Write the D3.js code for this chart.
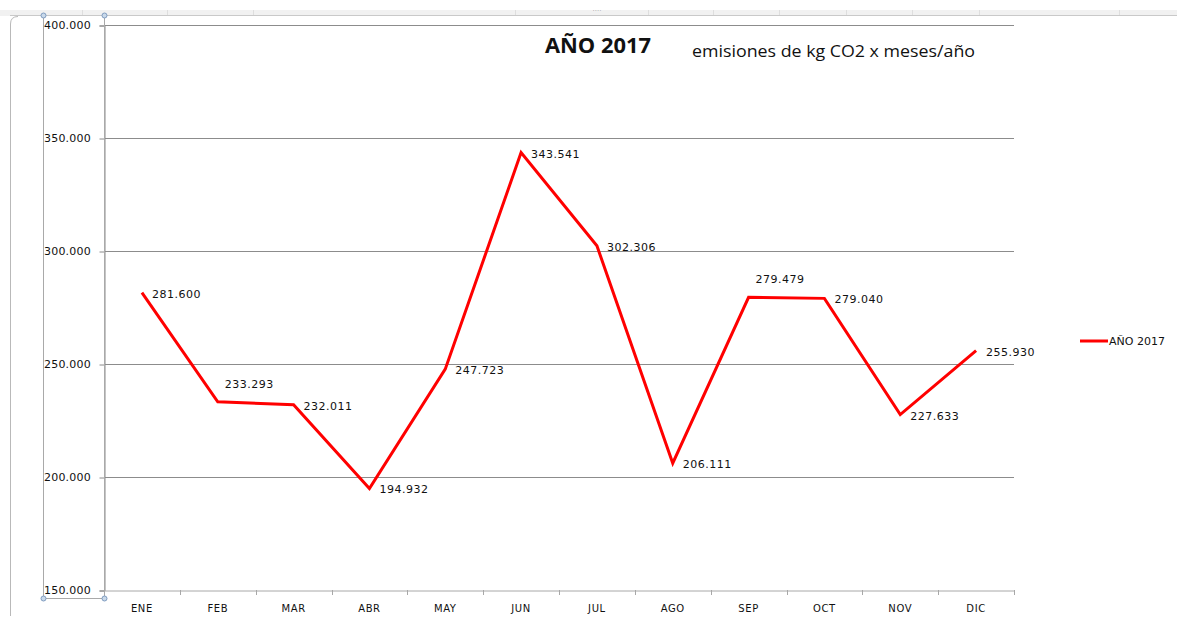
<!DOCTYPE html>
<html>
<head>
<meta charset="utf-8">
<script src="https://d3js.org/d3.v7.min.js"></script>
<style>
  body { margin: 0; background: #fff; }
  text { font-family: "DejaVu Sans", sans-serif; fill: #111; }
</style>
</head>
<body>
<div id="chart"></div>
<script>
// data
var months = ["ENE", "FEB", "MAR", "ABR", "MAY", "JUN", "JUL", "AGO", "SEP", "OCT", "NOV", "DIC"];
var emisiones = [281600, 233293, 232011, 194932, 247723, 343541, 302306, 206111, 279479, 279040, 227633, 255930];
var yTicks = [150000, 200000, 250000, 300000, 350000, 400000];
// where each data label sits: "r" = right of point, "a" = above
var labelSide = ["r", "a", "r", "r", "r", "r", "r", "r", "a", "r", "r", "r"];
var seriesName = "AÑO 2017";

var W = 1177, H = 619;
var plot = { left: 104, right: 1014, top: 25, bottom: 590 };

var svg = d3.select("#chart").append("svg")
  .attr("width", W).attr("height", H);

// spreadsheet strip on top
svg.append("rect").attr("x", 0).attr("y", 10).attr("width", W).attr("height", 6).attr("fill", "#f1f1f1");
svg.append("line").attr("x1", 10).attr("x2", W).attr("y1", 15.5).attr("y2", 15.5).attr("stroke", "#c9c9c9");
[82, 167, 253, 515, 648, 713, 779, 846, 912, 979, 1119].forEach(function(x) {
  svg.append("line").attr("x1", x + 0.5).attr("x2", x + 0.5).attr("y1", 10).attr("y2", 15)
    .attr("stroke", "#dedede");
});
svg.append("text").attr("x", 597).attr("y", 13).attr("text-anchor", "middle")
  .style("font-size", "7px").style("fill", "#aaa").text("····");

// chart frame (left side + rounded corner)
svg.append("path")
  .attr("d", "M10.5,616 L10.5,24 Q10.5,16.5 18,16.5")
  .attr("fill", "none").attr("stroke", "#b9b9b9");

var x = d3.scaleBand().domain(months).range([plot.left, plot.right]);
var y = d3.scaleLinear().domain([150000, 400000]).range([plot.bottom, plot.top]);
var fmtK = function(v) { return d3.format(",.3f")(v / 1000).replace(/,/g, ""); };

// grid
svg.append("g")
  .selectAll("line")
  .data(yTicks.slice(1))
  .enter().append("line")
  .attr("x1", plot.left).attr("x2", plot.right)
  .attr("y1", function(d) { return Math.round(y(d)) + 0.5; })
  .attr("y2", function(d) { return Math.round(y(d)) + 0.5; })
  .attr("stroke", "#8c8c8c");

// y axis
var yAxis = svg.append("g")
  .attr("transform", "translate(" + (plot.left + 0.5) + ",0.5)")
  .call(d3.axisLeft(y).tickValues(yTicks).tickSize(5).tickFormat(""));
yAxis.select(".domain").attr("stroke", "#8c8c8c");
yAxis.selectAll(".tick line").attr("stroke", "#8c8c8c");

svg.append("g").selectAll("text")
  .data(yTicks)
  .enter().append("text")
  .attr("x", 44)
  .attr("y", function(d) { return y(d) + 4; })
  .style("font-size", "11px")
  .style("letter-spacing", "0.2px")
  .text(function(d) { return fmtK(d); });

// x axis
var xAxis = svg.append("g")
  .attr("transform", "translate(0," + (plot.bottom + 0.5) + ")")
  .call(d3.axisBottom(x).tickSize(0).tickFormat(""));
xAxis.select(".domain").attr("stroke", "#a8a8a8");
xAxis.selectAll(".tick").remove();
var bounds = months.map(function(m) { return x(m); }).concat([plot.right]);
svg.append("g").selectAll("line")
  .data(bounds)
  .enter().append("line")
  .attr("x1", function(d) { return Math.round(d) + 0.5; })
  .attr("x2", function(d) { return Math.round(d) + 0.5; })
  .attr("y1", plot.bottom).attr("y2", plot.bottom + 5)
  .attr("stroke", "#a8a8a8");

svg.append("g").selectAll("text")
  .data(months)
  .enter().append("text")
  .attr("x", function(d) { return x(d) + x.bandwidth() / 2; })
  .attr("y", plot.bottom + 22)
  .attr("text-anchor", "middle")
  .style("font-size", "10px")
  .style("letter-spacing", "0.6px")
  .text(function(d) { return d; });

// selection box on y labels
var sel = svg.append("g").attr("stroke", "#a9a9a9").attr("fill", "none");
sel.append("line").attr("x1", 43.5).attr("x2", 43.5).attr("y1", 15).attr("y2", 598);
sel.append("line").attr("x1", 104.5).attr("x2", 104.5).attr("y1", 15).attr("y2", 598);
sel.append("line").attr("x1", 43).attr("x2", 104).attr("y1", 598.5).attr("y2", 598.5);
[[43.5, 15.5], [104.5, 15.5], [43.5, 598.5], [104.5, 598.5]].forEach(function(p) {
  svg.append("circle").attr("cx", p[0]).attr("cy", p[1]).attr("r", 2.5)
    .attr("fill", "#c9d9ea").attr("stroke", "#7f9cc0");
});

// series line
var pts = months.map(function(m, i) { return { m: m, v: emisiones[i], side: labelSide[i] }; });
var line = d3.line()
  .x(function(d) { return x(d.m) + x.bandwidth() / 2; })
  .y(function(d) { return y(d.v); });

svg.append("path")
  .datum(pts)
  .attr("d", line)
  .attr("fill", "none")
  .attr("stroke", "#ff0000")
  .attr("stroke-width", 3)
  .attr("stroke-linejoin", "miter");

// data labels
svg.append("g").selectAll("text")
  .data(pts)
  .enter().append("text")
  .attr("x", function(d) {
    var cx = x(d.m) + x.bandwidth() / 2;
    return d.side === "a" ? cx + 7 : cx + 10;
  })
  .attr("y", function(d) {
    return d.side === "a" ? y(d.v) - 14 : y(d.v) + 5;
  })
  .style("font-size", "11px")
  .style("letter-spacing", "0.5px")
  .text(function(d) { return fmtK(d.v); });

// title
svg.append("text")
  .attr("x", 545).attr("y", 53)
  .attr("textLength", 106).attr("lengthAdjust", "spacingAndGlyphs")
  .style("font-family", "'Open Sans', sans-serif")
  .style("font-weight", "bold")
  .style("font-size", "21px")
  .text(seriesName);

svg.append("text")
  .attr("x", 692).attr("y", 57)
  .attr("textLength", 283).attr("lengthAdjust", "spacingAndGlyphs")
  .style("font-family", "'Open Sans', sans-serif")
  .style("font-weight", "normal")
  .style("font-size", "16px")
  .text("emisiones de kg CO2 x meses/año");

// legend
svg.append("line")
  .attr("x1", 1080).attr("x2", 1108).attr("y1", 341).attr("y2", 341)
  .attr("stroke", "#ff0000").attr("stroke-width", 3);
svg.append("text")
  .attr("x", 1109).attr("y", 345)
  .style("font-size", "11px")
  .text(seriesName);
</script>
</body>
</html>
